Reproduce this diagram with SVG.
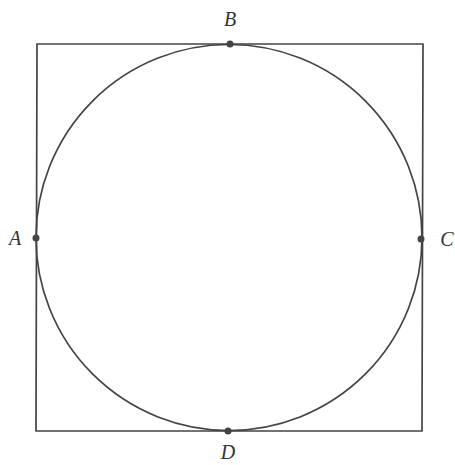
<svg xmlns="http://www.w3.org/2000/svg" width="455" height="465" viewBox="0 0 455 465">
<style>
.ln{fill:none;stroke:#444;stroke-width:1.7}
.pt{fill:#444}
.lb{font-family:"Liberation Serif",serif;font-style:italic;font-size:20px;fill:#333}
</style>
<rect width="455" height="465" fill="#fff"/>
<g id="square"><path class="ln" d="M37,44 L423,44 L422,431 L36,431 Z"/></g>
<g id="circle"><circle class="ln" cx="229" cy="237.5" r="193"/></g>
<g id="A"><circle class="pt" cx="36" cy="238" r="3.5"/><text class="lb" x="15" y="245" text-anchor="middle">A</text></g>
<g id="B"><circle class="pt" cx="230" cy="44" r="3.5"/><text class="lb" x="230" y="26" text-anchor="middle">B</text></g>
<g id="C"><circle class="pt" cx="421" cy="239" r="3.5"/><text class="lb" x="447" y="246" text-anchor="middle">C</text></g>
<g id="D"><circle class="pt" cx="228" cy="431" r="3.5"/><text class="lb" x="228" y="459" text-anchor="middle">D</text></g>
</svg>
